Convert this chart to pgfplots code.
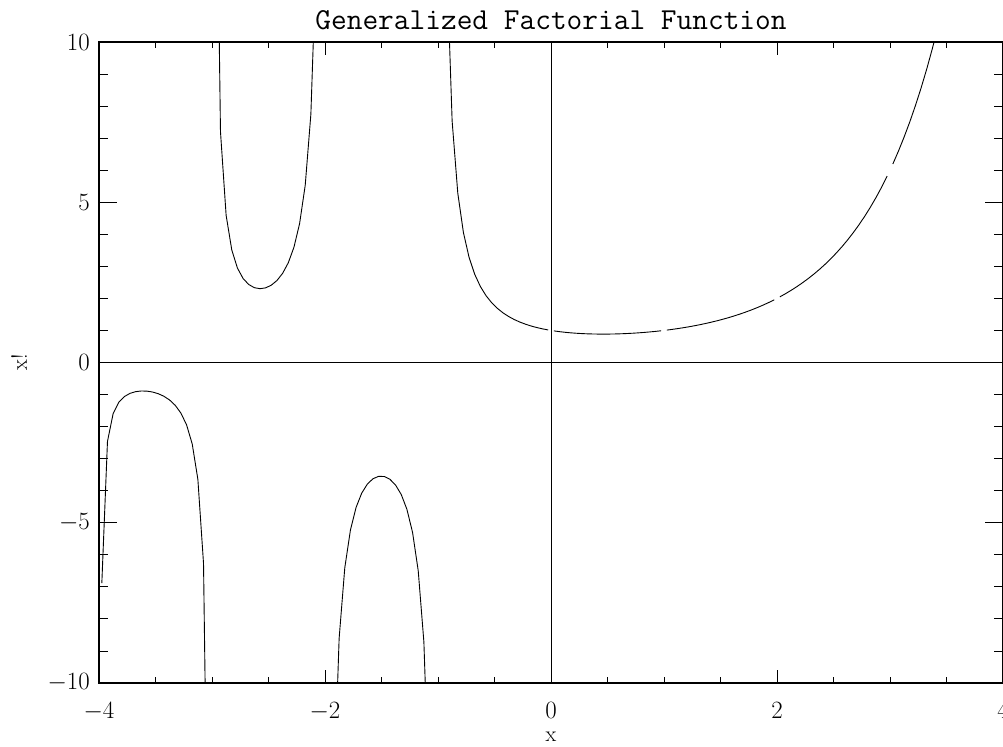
\documentclass[border=0pt]{standalone}
\usepackage{pgfplots}
\pgfplotsset{compat=1.18}
\begin{document}
\begin{tikzpicture}
\begin{axis}[name=ax, scale only axis, width=904pt, height=641pt,
  xmin=-4, xmax=4, ymin=-10, ymax=10,
  xtick={-4,-2,0,2,4}, minor x tick num=3, ytick=\empty,
  major tick length=12.8pt, minor tick length=6.4pt,
  tick style={black, line width=0.9pt},
  axis line style={black, line width=1.1pt},
  xticklabel style={font=\fontsize{24}{24}\selectfont, anchor=base, inner sep=0pt, yshift=-35.5pt},
  xlabel={x},
  every axis x label/.style={at={(axis description cs:0.5,-0.0905)}, anchor=base, font=\fontsize{22}{22}\selectfont},
  title={Generalized Factorial Function},
  every axis title/.style={at={(axis description cs:0.5,1.01872)}, anchor=base, font=\ttfamily\fontsize{30.5}{30.5}\selectfont},
]
\addplot[black, line width=0.8pt] coordinates {(-4,0) (4,0)};
\addplot[black, line width=0.8pt] coordinates {(0,-10) (0,10)};
% segment (-4,-3)
\addplot[black, line width=0.9pt] coordinates {
(-3.975,-6.88585) (-3.925,-2.46253) (-3.875,-1.59727) (-3.825,-1.24299) (-3.775,-1.06172)
(-3.725,-0.96203) (-3.675,-0.90952) (-3.625,-0.88914) (-3.575,-0.89415) (-3.525,-0.92235)
(-3.475,-0.97466) (-3.425,-1.05504) (-3.375,-1.17140) (-3.325,-1.33786) (-3.275,-1.57981)
(-3.225,-1.94620) (-3.175,-2.54292) (-3.125,-3.64644) (-3.075,-6.27195) (-3.025,-19.5617)};
% segment (-3,-2)
\addplot[black, line width=0.9pt] coordinates {
(-2.975,20.4854) (-2.925,7.20291) (-2.875,4.59215) (-2.825,3.51144) (-2.775,2.94628)
(-2.725,2.62153) (-2.675,2.43297) (-2.625,2.33398) (-2.575,2.30244) (-2.525,2.32892)
(-2.475,2.41228) (-2.425,2.55848) (-2.375,2.78208) (-2.325,3.11053) (-2.275,3.59407)
(-2.225,4.33030) (-2.175,5.53084) (-2.125,7.74869) (-2.075,13.0143) (-2.025,39.6125)};
% segment (-2,-1)
\addplot[black, line width=0.9pt] coordinates {
(-1.975,-40.4587) (-1.925,-13.8656) (-1.875,-8.61029) (-1.825,-6.40838) (-1.775,-5.22965)
(-1.725,-4.52214) (-1.675,-4.07522) (-1.625,-3.79272) (-1.575,-3.62635) (-1.525,-3.55160)
(-1.475,-3.55811) (-1.425,-3.64584) (-1.375,-3.82536) (-1.325,-4.12145) (-1.275,-4.58244)
(-1.225,-5.30462) (-1.175,-6.49874) (-1.125,-8.71728) (-1.075,-13.9904) (-1.025,-40.6028)};
% segment (-1,0)
\addplot[black, line width=0.9pt] coordinates {
(-0.975,39.4472) (-0.925,12.8257) (-0.875,7.53400) (-0.825,5.28691) (-0.775,4.05298)
(-0.725,3.27855) (-0.675,2.75077) (-0.625,2.37045) (-0.575,2.08515) (-0.525,1.86459)
(-0.475,1.69010) (-0.425,1.54948) (-0.375,1.43451) (-0.325,1.33947) (-0.275,1.26017)
(-0.225,1.19354) (-0.175,1.13728) (-0.125,1.08966) (-0.075,1.04928) (-0.025,1.01507)};
% segment [0,1)
\addplot[black, line width=0.9pt] coordinates {
(0.025,0.98618) (0.075,0.96193) (0.125,0.94175) (0.175,0.92521) (0.225,0.91192)
(0.275,0.90160) (0.325,0.89400) (0.375,0.88892) (0.425,0.88619) (0.475,0.88568)
(0.525,0.88730) (0.575,0.89095) (0.625,0.89657) (0.675,0.90414) (0.725,0.91362)
(0.775,0.92499) (0.825,0.93826) (0.875,0.95345) (0.925,0.97058) (0.975,0.98969)};
% segment [1,2)
\addplot[black, line width=0.9pt] coordinates {
(1.025,1.01083) (1.075,1.03407) (1.125,1.05947) (1.175,1.08712) (1.225,1.11710)
(1.275,1.14954) (1.325,1.18455) (1.375,1.22227) (1.425,1.26282) (1.475,1.30638)
(1.525,1.35313) (1.575,1.40325) (1.625,1.45693) (1.675,1.51443) (1.725,1.57599)
(1.775,1.64186) (1.825,1.71232) (1.875,1.78772) (1.925,1.86837) (1.975,1.95464)};
% segment [2,3)
\addplot[black, line width=0.9pt] coordinates {
(2.025,2.04693) (2.075,2.14570) (2.125,2.25137) (2.175,2.36449) (2.225,2.48555)
(2.275,2.61520) (2.325,2.75408) (2.375,2.90289) (2.425,3.06234) (2.475,3.23329)
(2.525,3.41665) (2.575,3.61337) (2.625,3.82444) (2.675,4.05110) (2.725,4.29457)
(2.775,4.55616) (2.825,4.83730) (2.875,5.13970) (2.925,5.46498) (2.975,5.81505)};
% segment [3,4)
\addplot[black, line width=0.9pt] coordinates {
(3.025,6.19196) (3.075,6.59803) (3.125,7.03553) (3.175,7.50726) (3.225,8.01590)
(3.275,8.56478) (3.325,9.15732) (3.375,9.79725) (3.425,10.48852) (3.475,11.23568)
(3.525,12.04369) (3.575,12.9178) (3.625,13.8636) (3.675,14.8878) (3.725,15.9973)
(3.775,17.1995) (3.825,18.5027) (3.875,19.9163) (3.925,21.4500) (3.975,23.1148)};
\end{axis}
\begin{axis}[scale only axis, width=904pt, height=641pt,
  xmin=-4, xmax=4, ymin=-10, ymax=10,
  xtick=\empty, ytick={-10,-5,0,5,10}, minor y tick num=4,
  major tick length=18pt, minor tick length=9pt,
  tick style={black, line width=0.9pt},
  axis line style={black, line width=1.1pt},
  yticklabel style={font=\fontsize{24}{24}\selectfont, anchor=east, inner sep=0pt, xshift=-9pt},
  ylabel={x!},
  every axis y label/.style={at={(axis description cs:-0.07965,0.5)}, rotate=90, anchor=base, font=\fontsize{22}{22}\selectfont},
]
\addplot[draw=none] coordinates {(0,0)};
\end{axis}
\path (ax.south west) ++(-99pt,-63pt) coordinate (bbA);
\path (ax.north east) ++(0pt,42pt) coordinate (bbB);
\pgfresetboundingbox
\useasboundingbox (bbA) rectangle (bbB);
\end{tikzpicture}
\end{document}
